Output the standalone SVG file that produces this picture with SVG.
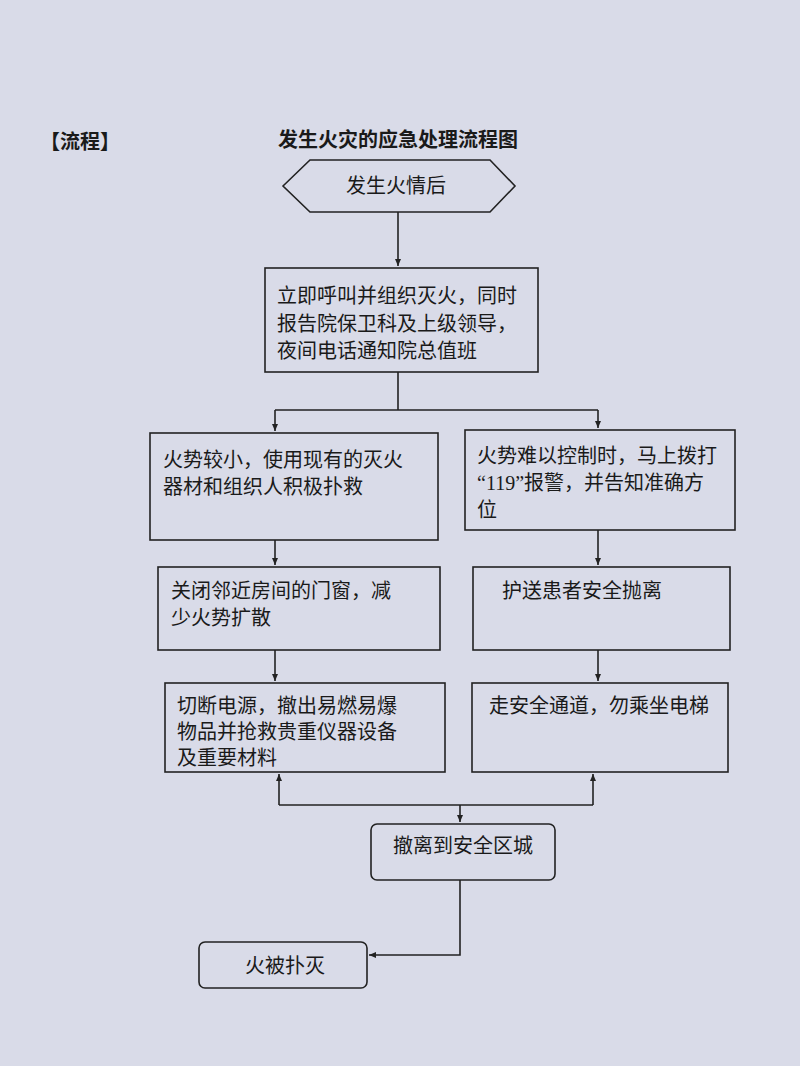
<svg xmlns="http://www.w3.org/2000/svg" width="800" height="1066" viewBox="0 0 800 1066">
<style>
text{font-family:"Liberation Serif","Noto Sans CJK SC",serif;font-size:20px;fill:#1a1a1a}
.b{fill:none;stroke:#222;stroke-width:1.6}
.c{fill:none;stroke:#222;stroke-width:1.6}
.t{font-weight:bold;font-size:20px}
</style>
<defs><marker id="a" markerWidth="8" markerHeight="8" refX="7" refY="4" orient="auto" markerUnits="userSpaceOnUse"><path d="M0,1 L7,4 L0,7 Z" fill="#222"/></marker></defs>
<rect width="800" height="1066" fill="#d9dbe8"/>
<text x="40" y="149" class="t">【流程】</text>
<text x="398" y="147" class="t" text-anchor="middle">发生火灾的应急处理流程图</text>
<g id="n1"><polygon class="b" points="283,186 310,160 490,160 515,186 490,212 310,212"/><text x="396" y="193" text-anchor="middle">发生火情后</text></g>
<g id="n2"><rect class="b" x="265" y="268" width="273" height="104"/><text x="277" y="303">立即呼叫并组织灭火，同时</text><text x="277" y="331">报告院保卫科及上级领导，</text><text x="277" y="358">夜间电话通知院总值班</text></g>
<g id="n3"><rect class="b" x="150" y="433" width="288" height="107"/><text x="163" y="467">火势较小，使用现有的灭火</text><text x="163" y="494">器材和组织人积极扑救</text></g>
<g id="n4"><rect class="b" x="465" y="430" width="270" height="100"/><text x="477" y="463">火势难以控制时，马上拨打</text><text x="477" y="490">“119”报警，并告知准确方</text><text x="477" y="517">位</text></g>
<g id="n5"><rect class="b" x="158" y="567" width="282" height="83"/><text x="171" y="598">关闭邻近房间的门窗，减</text><text x="171" y="625">少火势扩散</text></g>
<g id="n6"><rect class="b" x="473" y="567" width="257" height="83"/><text x="502" y="598">护送患者安全抛离</text></g>
<g id="n7"><rect class="b" x="165" y="683" width="280" height="89"/><text x="177" y="713">切断电源，撤出易燃易爆</text><text x="177" y="739">物品并抢救贵重仪器设备</text><text x="177" y="765">及重要材料</text></g>
<g id="n8"><rect class="b" x="472" y="683" width="256" height="89"/><text x="489" y="713">走安全通道，勿乘坐电梯</text></g>
<g id="n9"><rect class="b" x="371" y="824" width="184" height="56" rx="6"/><text x="393" y="853">撤离到安全区城</text></g>
<g id="n10"><rect class="b" x="199" y="942" width="168" height="46" rx="6"/><text x="245" y="973">火被扑灭</text></g>
<g id="edges">
<path class="c" d="M398,212 V266" marker-end="url(#a)"/>
<path class="c" d="M398,372 V410 M275,410 H598"/>
<path class="c" d="M275,410 V431" marker-end="url(#a)"/>
<path class="c" d="M598,410 V428" marker-end="url(#a)"/>
<path class="c" d="M275,540 V565" marker-end="url(#a)"/>
<path class="c" d="M598,530 V565" marker-end="url(#a)"/>
<path class="c" d="M275,650 V681" marker-end="url(#a)"/>
<path class="c" d="M598,650 V681" marker-end="url(#a)"/>
<path class="c" d="M279,805 H593"/>
<path class="c" d="M279,805 V774" marker-end="url(#a)"/>
<path class="c" d="M593,805 V774" marker-end="url(#a)"/>
<path class="c" d="M460,805 V822" marker-end="url(#a)"/>
<path class="c" d="M460,880 V955 H369" marker-end="url(#a)"/>
</g>
</svg>
